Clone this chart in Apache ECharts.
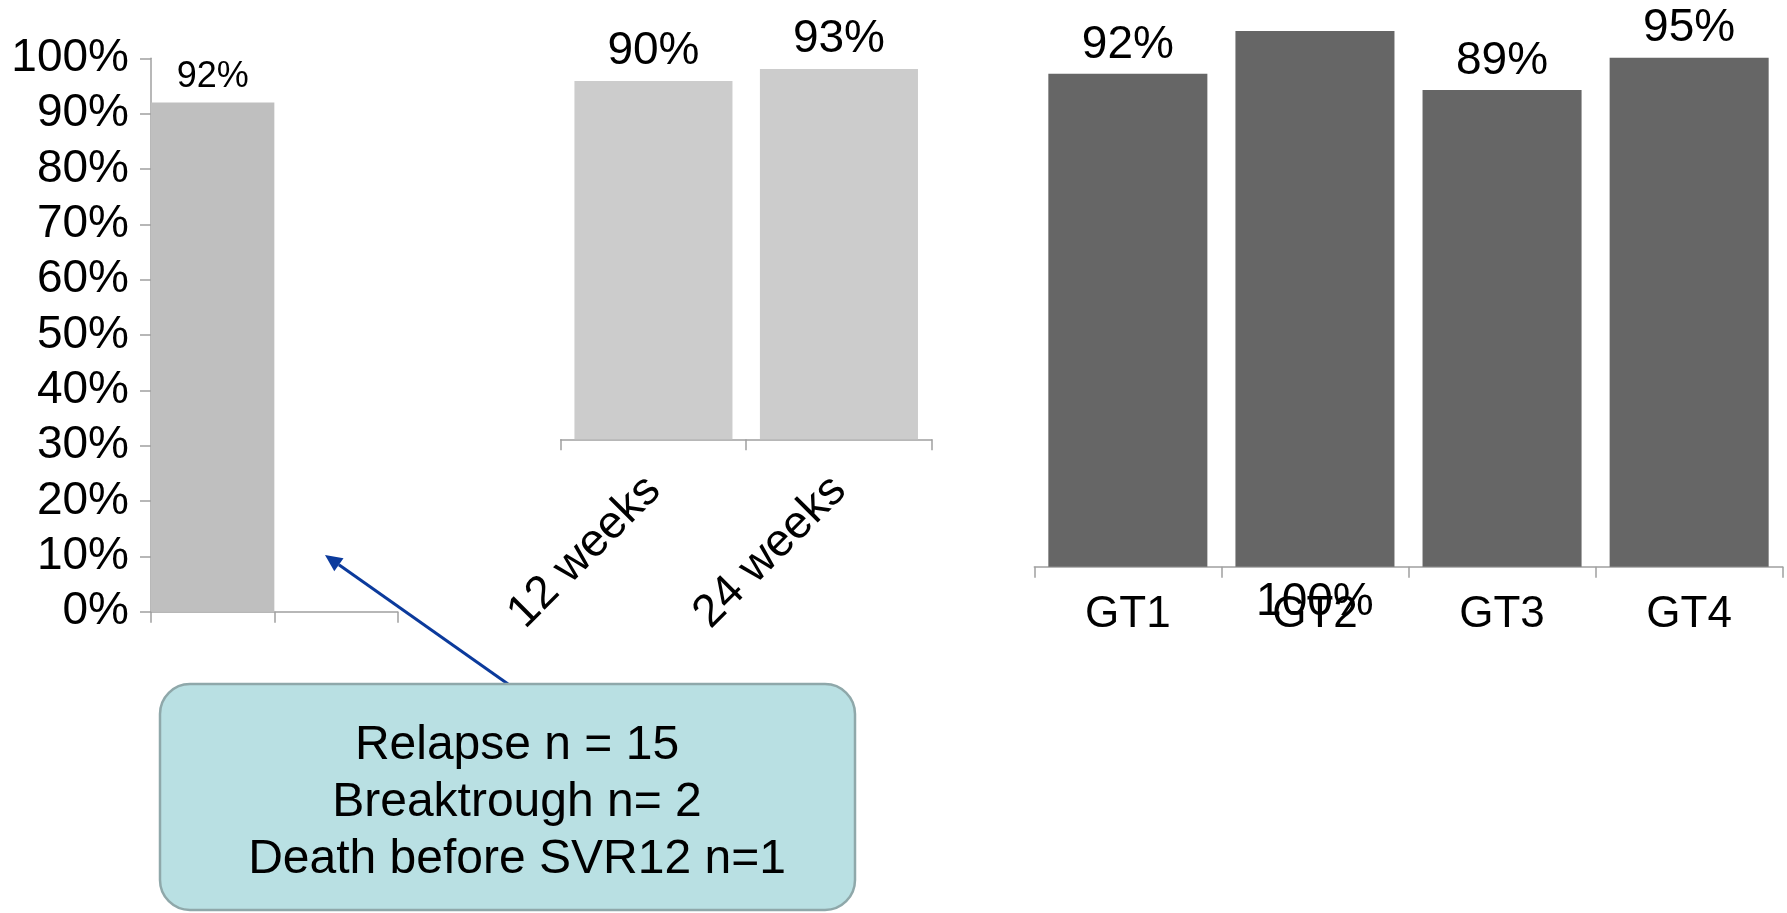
<!DOCTYPE html>
<html>
<head>
<meta charset="utf-8">
<script src="https://cdn.jsdelivr.net/npm/echarts@6/dist/echarts.min.js"></script>
<style>
  html, body { margin: 0; padding: 0; background: #ffffff; }
  #chart { width: 1787px; height: 913px; }
</style>
</head>
<body>
<div id="chart"></div>
<script>
// SVR12 overall, by treatment duration and by genotype
const overallCats = ['Overall', ''];
const overallValues = [92, null];
const durationCats = ['12 weeks', '24 weeks'];
const durationValues = [90, 93];
const genotypeCats = ['GT1', 'GT2', 'GT3', 'GT4'];
const genotypeValues = [92, 100, 89, 95];
const percentMin = 0;
const percentMax = 100;
const percentStep = 10;
const noteLines = ['Relapse n = 15', 'Breaktrough n= 2', 'Death before SVR12 n=1'];

const FONT = '"Liberation Sans", Arial, Helvetica, sans-serif';
const AXIS_GREY = '#a0a0a0';

const chart = echarts.init(document.getElementById('chart'), null, { renderer: 'canvas' });

function catAxis(gridIndex, data, labelOpts) {
  return {
    type: 'category',
    gridIndex: gridIndex,
    data: data,
    boundaryGap: true,
    axisLine: { show: true, lineStyle: { color: AXIS_GREY, width: 1.5 } },
    axisTick: { show: true, length: 11, alignWithLabel: false, lineStyle: { color: AXIS_GREY, width: 1.5 } },
    axisLabel: labelOpts,
    splitLine: { show: false }
  };
}

function valAxis(gridIndex, visible) {
  return {
    type: 'value',
    gridIndex: gridIndex,
    min: percentMin,
    max: percentMax,
    interval: percentStep,
    show: visible,
    axisLine: { show: visible, lineStyle: { color: AXIS_GREY, width: 1.5 } },
    axisTick: { show: visible, length: 11, lineStyle: { color: AXIS_GREY, width: 1.5 } },
    axisLabel: {
      show: visible,
      formatter: '{value}%',
      color: '#000',
      fontFamily: FONT,
      fontSize: 46,
      margin: 22
    },
    splitLine: { show: false }
  };
}

const valueLabel = (size, dist) => ({
  show: true,
  position: 'top',
  distance: dist,
  formatter: '{c}%',
  color: '#000',
  fontFamily: FONT,
  fontSize: size
});

// the 100% bar has no headroom, so its figure sits under the axis
const genotypeData = genotypeValues.map(v => v >= percentMax
  ? { value: v, label: { position: 'bottom', distance: 13 } }
  : v);

// annotation arrow geometry
const arrowFrom = [508, 684];
const arrowTo = [325, 555];
const ang = Math.atan2(arrowTo[1] - arrowFrom[1], arrowTo[0] - arrowFrom[0]);
const headLen = 17, headHalf = 8;
const bx = arrowTo[0] - headLen * Math.cos(ang);
const by = arrowTo[1] - headLen * Math.sin(ang);
const head = [
  arrowTo,
  [bx + headHalf * Math.sin(ang), by - headHalf * Math.cos(ang)],
  [bx - headHalf * Math.sin(ang), by + headHalf * Math.cos(ang)]
];

const option = {
  backgroundColor: '#ffffff',
  animation: false,
  grid: [
    { left: 151, top: 58.3, width: 246.7, height: 553.4 },
    { left: 560.7, top: 41.2, width: 371, height: 398.1 },
    { left: 1034.3, top: 31, width: 748.4, height: 535.7 }
  ],
  xAxis: [
    catAxis(0, overallCats, { show: false }),
    catAxis(1, durationCats, {
      show: true, rotate: 45, interval: 0, margin: 44,
      color: '#000', fontFamily: FONT, fontSize: 46
    }),
    catAxis(2, genotypeCats, {
      show: true, interval: 0, margin: 26,
      color: '#000', fontFamily: FONT, fontSize: 44
    })
  ],
  yAxis: [
    valAxis(0, true),
    valAxis(1, false),
    valAxis(2, false)
  ],
  series: [
    {
      type: 'bar', xAxisIndex: 0, yAxisIndex: 0,
      data: overallValues,
      barCategoryGap: '0%',
      itemStyle: { color: '#bfbfbf' },
      label: valueLabel(36, 7)
    },
    {
      type: 'bar', xAxisIndex: 1, yAxisIndex: 1,
      data: durationValues,
      barCategoryGap: '14.8%',
      itemStyle: { color: '#cccccc' },
      label: valueLabel(46, 7)
    },
    {
      type: 'bar', xAxisIndex: 2, yAxisIndex: 2,
      data: genotypeData,
      barCategoryGap: '15%',
      itemStyle: { color: '#666666' },
      label: valueLabel(46, 6)
    }
  ],
  graphic: [
    {
      type: 'line',
      shape: { x1: arrowFrom[0], y1: arrowFrom[1], x2: bx, y2: by },
      style: { stroke: '#0b3a9c', lineWidth: 3 },
      z: 10
    },
    {
      type: 'polygon',
      shape: { points: head },
      style: { fill: '#0b3a9c' },
      z: 10
    },
    {
      type: 'rect',
      shape: { x: 160, y: 684, width: 695, height: 226, r: 30 },
      style: { fill: '#b9e0e3', stroke: '#8fa8aa', lineWidth: 2.5 },
      z: 11
    },
    {
      type: 'group',
      z: 12,
      children: noteLines.map((t, i) => ({
        type: 'text',
        x: 517,
        y: 746 + i * 57,
        style: {
          text: t,
          fill: '#000',
          font: '48px ' + FONT,
          textAlign: 'center',
          textVerticalAlign: 'middle'
        },
        z: 12
      }))
    }
  ]
};

chart.setOption(option);
</script>
</body>
</html>
